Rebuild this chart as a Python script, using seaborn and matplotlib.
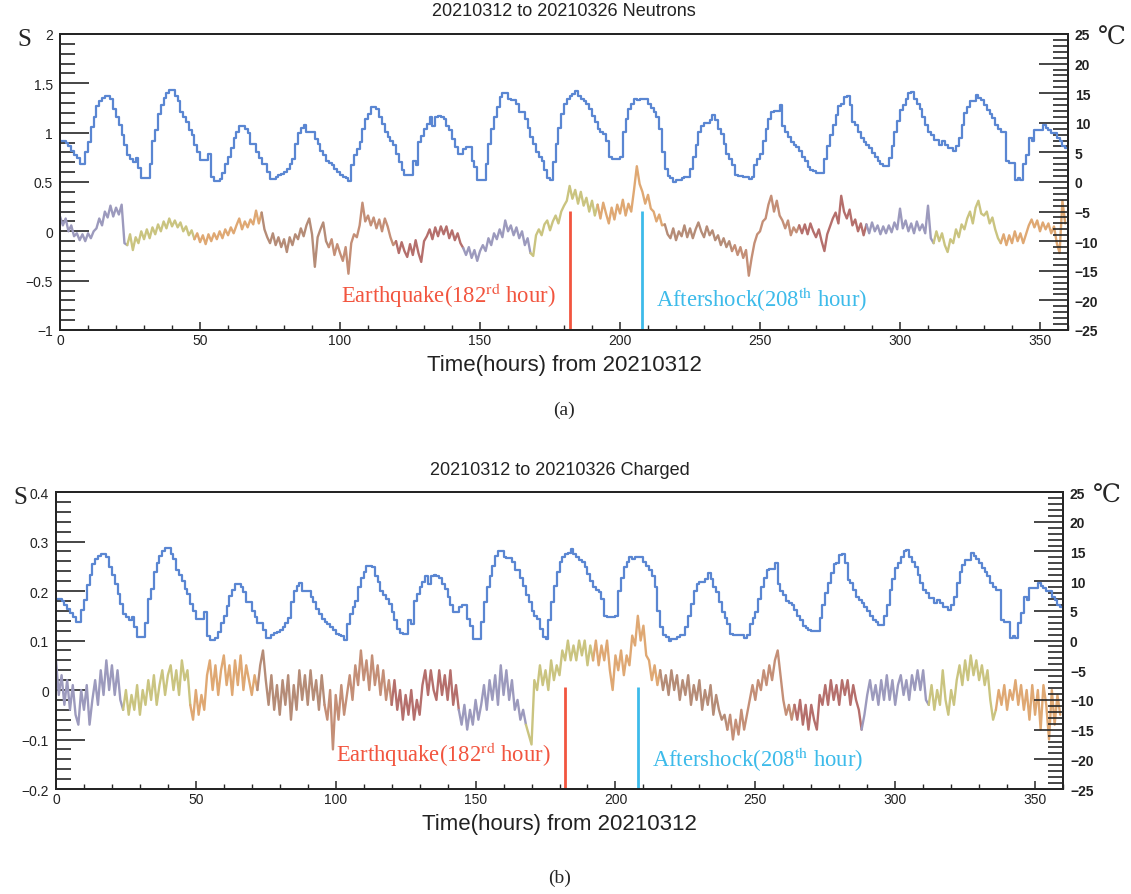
import numpy as np
import pandas as pd
import seaborn as sns
import matplotlib.pyplot as plt
from matplotlib.ticker import MultipleLocator, FuncFormatter

# hourly temperature (deg C), same period for both panels
temp_c = [
    7.0, 7.0, 6.6, 6.0, 5.3, 4.6, 4.0, 3.1, 3.1, 5.1, 6.8, 9.3, 11.0, 12.9, 13.7, 14.2, 14.5, 14.5, 14.1, 12.4, 11.0, 9.6, 7.9, 6.2,
    4.5, 3.9, 3.4, 4.0, 2.3, 0.6, 0.6, 0.6, 3.0, 7.0, 8.7, 11.5, 13.0, 14.2, 15.0, 15.5, 15.5, 14.6, 13.7, 11.8, 11.0, 10.1, 8.7, 7.9,
    6.2, 5.0, 3.7, 3.7, 3.7, 4.8, 0.8, 0.1, 0.1, 0.5, 1.5, 3.0, 4.2, 5.8, 7.5, 8.5, 9.5, 9.5, 9.0, 8.2, 6.5, 6.5, 5.0, 4.0,
    3.0, 3.0, 1.7, 0.5, 0.5, 0.9, 1.2, 1.4, 1.7, 2.2, 3.0, 3.8, 6.5, 8.3, 9.2, 9.7, 8.4, 8.4, 8.4, 7.3, 6.5, 5.3, 4.5, 3.6,
    3.2, 2.8, 2.2, 1.7, 1.1, 0.9, 0.7, 0.1, 2.8, 4.5, 5.6, 6.7, 9.0, 10.6, 11.5, 12.6, 12.6, 12.3, 10.9, 9.8, 8.4, 7.6, 7.0, 6.2,
    4.8, 3.4, 2.0, 1.2, 1.1, 1.1, 3.5, 2.8, 6.7, 7.8, 9.0, 9.8, 10.9, 9.5, 10.9, 11.1, 10.9, 10.6, 9.5, 8.7, 7.3, 5.9, 4.8, 4.8,
    5.6, 5.9, 5.9, 3.6, 2.5, 0.3, 0.3, 0.3, 3.1, 6.5, 9.0, 10.9, 12.6, 14.3, 15.1, 15.1, 14.1, 13.9, 13.9, 13.2, 11.8, 11.8, 10.6, 9.2,
    7.6, 6.5, 5.0, 4.2, 3.6, 2.0, 0.6, 0.3, 3.4, 6.5, 9.2, 11.5, 13.2, 14.0, 14.5, 14.8, 15.4, 14.5, 14.0, 13.6, 13.2, 12.3, 11.2, 10.1,
    9.0, 8.5, 8.1, 7.0, 4.2, 3.9, 3.9, 3.9, 4.2, 8.4, 10.6, 12.3, 13.2, 14.0, 13.8, 14.0, 14.0, 14.0, 13.2, 12.5, 11.8, 10.9, 9.0, 5.0,
    2.2, 1.0, 0.6, 0.0, 0.3, 0.3, 0.6, 0.9, 0.9, 2.2, 4.2, 6.2, 8.4, 9.5, 9.9, 9.9, 10.4, 11.3, 10.4, 9.0, 8.1, 6.5, 4.8, 3.8,
    2.8, 1.1, 1.0, 1.0, 0.9, 0.9, 0.5, 0.9, 2.8, 3.8, 4.8, 7.0, 9.0, 10.6, 11.8, 12.0, 12.0, 13.0, 9.5, 8.4, 7.6, 6.7, 6.3, 5.9,
    5.2, 4.2, 3.5, 2.5, 2.1, 1.8, 1.6, 1.6, 1.6, 3.8, 6.0, 8.0, 9.7, 11.3, 12.9, 13.1, 14.4, 14.6, 13.0, 10.2, 9.7, 8.5, 7.4, 6.8,
    6.3, 5.7, 4.9, 4.2, 3.5, 3.1, 2.7, 2.7, 4.1, 6.0, 8.5, 10.3, 12.2, 13.0, 14.1, 15.0, 15.2, 14.1, 13.2, 12.4, 11.0, 9.7, 8.5, 8.0,
    7.1, 7.1, 6.3, 6.9, 6.3, 5.7, 5.7, 5.2, 6.0, 7.4, 9.7, 11.6, 12.7, 13.6, 13.6, 14.7, 14.2, 13.8, 13.0, 12.2, 11.5, 10.8, 9.7, 9.0,
    8.5, 8.5, 3.5, 3.2, 3.2, 0.4, 0.7, 0.4, 3.0, 4.6, 7.4, 6.9, 8.8, 8.8, 8.8, 9.7, 9.1, 8.8, 8.3, 8.3, 7.4, 6.9, 6.0, 5.7,
]

# hourly S for neutrons
neutron_s = [
    0.15, 0.06, 0.13, 0.0, 0.06, -0.05, -0.02, -0.09, -0.03, -0.1, -0.02, -0.07, 0.0, 0.03, 0.13, 0.06, 0.2, 0.14, 0.26, 0.15, 0.24, 0.17, 0.27, -0.12,
    -0.14, -0.03, -0.19, -0.06, -0.12, 0.0, -0.08, 0.02, -0.07, 0.04, -0.03, 0.07, 0.0, 0.1, 0.03, 0.13, 0.05, 0.11, 0.04, 0.09, 0.0, 0.05, -0.04, 0.01,
    -0.08, -0.02, -0.11, -0.04, -0.13, -0.03, -0.1, -0.02, -0.08, 0.0, -0.07, 0.02, -0.04, 0.04, -0.02, 0.06, 0.13, 0.02, 0.1, 0.04, 0.12, 0.07, 0.21, 0.08,
    0.19, 0.02, -0.06, -0.12, -0.02, -0.14, -0.06, -0.16, -0.08, -0.21, -0.06, -0.14, -0.03, -0.08, 0.03, -0.05, 0.06, 0.13, -0.03, -0.36, -0.06, 0.02, 0.09, -0.1,
    -0.16, -0.08, -0.24, -0.13, -0.22, -0.3, -0.16, -0.43, -0.12, -0.03, -0.06, 0.06, 0.29, 0.1, 0.16, 0.06, 0.14, 0.03, 0.12, 0.0, 0.13, 0.05, -0.06, -0.14,
    -0.1, -0.22, -0.11, -0.2, -0.26, -0.13, -0.24, -0.09, -0.22, -0.31, -0.1, -0.05, 0.02, -0.08, 0.04, -0.05, 0.05, -0.03, 0.05, -0.07, 0.01, -0.09, -0.02, -0.12,
    -0.17, -0.24, -0.16, -0.27, -0.19, -0.3, -0.2, -0.14, -0.2, -0.07, -0.14, -0.02, -0.08, 0.02, -0.06, 0.11, 0.0, 0.06, -0.04, 0.04, -0.07, 0.0, -0.14, -0.07,
    -0.22, -0.25, -0.04, 0.02, -0.04, 0.07, 0.11, 0.01, 0.1, 0.16, 0.08, 0.2, 0.26, 0.31, 0.46, 0.33, 0.42, 0.28, 0.4, 0.26, 0.34, 0.2, 0.31, 0.16,
    0.27, 0.13, 0.29, 0.18, 0.08, 0.24, 0.12, 0.27, 0.18, 0.32, 0.16, 0.28, 0.2, 0.42, 0.66, 0.48, 0.4, 0.28, 0.37, 0.23, 0.2, 0.1, 0.17, 0.06,
    0.07, -0.03, -0.07, 0.03, -0.09, 0.0, -0.05, 0.06, -0.06, 0.03, -0.07, 0.02, 0.09, 0.0, -0.06, 0.05, -0.04, 0.01, -0.09, -0.04, -0.14, -0.07, -0.16, -0.1,
    -0.2, -0.14, -0.24, -0.16, -0.27, -0.19, -0.45, -0.27, -0.12, -0.03, 0.0, 0.1, 0.13, 0.27, 0.36, 0.2, 0.31, 0.16, 0.11, 0.03, 0.11, -0.04, 0.04, -0.01,
    0.06, -0.02, 0.07, -0.03, 0.08, 0.0, -0.06, 0.02, -0.1, -0.2, -0.03, 0.05, 0.13, 0.19, 0.08, 0.36, 0.2, 0.13, 0.22, 0.06, 0.12, 0.0, 0.08, -0.04,
    0.07, -0.02, 0.09, 0.0, 0.06, -0.03, 0.05, -0.02, 0.06, -0.01, 0.09, 0.02, 0.23, 0.03, 0.11, 0.0, 0.08, -0.02, 0.1, 0.01, 0.07, -0.02, 0.26, -0.07,
    -0.12, 0.0, -0.1, -0.02, -0.14, -0.21, -0.08, -0.12, 0.02, -0.06, 0.07, 0.02, 0.13, 0.2, 0.08, 0.24, 0.31, 0.18, 0.16, 0.2, 0.08, 0.14, 0.02, -0.07,
    -0.12, -0.03, -0.14, -0.04, -0.12, 0.0, -0.1, -0.02, -0.12, -0.03, 0.06, 0.12, 0.04, 0.11, 0.0, 0.09, 0.02, 0.08, -0.02, 0.05, -0.12, -0.22, 0.31, 0.08,
]

# hourly S for charged particles
charged_s = [
    0.06, -0.01, 0.03, -0.03, 0.02, -0.04, 0.01, -0.05, -0.07, 0.0, -0.04, 0.01, -0.07, -0.02, 0.02, -0.03, 0.04, -0.01, 0.06, 0.0, 0.05, -0.01, 0.04, -0.02,
    -0.04, 0.0, -0.05, -0.01, -0.04, 0.01, -0.05, 0.0, -0.03, 0.02, -0.02, 0.03, -0.03, 0.01, 0.04, -0.01, 0.03, 0.05, 0.0, 0.04, -0.01, 0.06, 0.02, 0.04,
    -0.03, -0.06, 0.0, -0.05, -0.01, -0.04, 0.03, 0.06, 0.0, 0.05, -0.01, 0.04, 0.07, 0.01, 0.05, -0.01, 0.06, 0.01, 0.07, 0.0, 0.05, 0.02, -0.01, 0.03,
    0.0, 0.05, 0.08, 0.02, -0.03, 0.03, -0.04, 0.01, -0.05, 0.02, -0.03, 0.03, -0.06, 0.01, -0.04, 0.04, -0.02, 0.03, -0.03, 0.04, -0.02, 0.02, -0.04, 0.03,
    -0.03, -0.06, 0.0, -0.12, -0.01, -0.06, 0.01, -0.05, -0.01, 0.03, -0.02, 0.05, 0.01, 0.08, 0.02, 0.06, 0.0, 0.07, 0.01, 0.05, -0.01, 0.04, -0.02, 0.02,
    -0.03, 0.02, -0.04, 0.0, -0.06, -0.01, -0.05, 0.0, -0.06, -0.02, -0.05, 0.01, 0.04, -0.01, 0.04, 0.0, -0.02, 0.04, -0.01, 0.03, -0.02, 0.04, -0.03, 0.01,
    -0.04, -0.07, -0.03, -0.08, -0.04, -0.07, -0.02, -0.06, -0.03, 0.01, -0.04, 0.02, -0.02, 0.03, -0.03, 0.05, -0.01, 0.04, -0.02, 0.02, -0.04, -0.02, -0.06, -0.04,
    -0.07, -0.09, -0.11, 0.02, 0.0, 0.05, 0.01, 0.04, 0.0, 0.06, 0.02, 0.05, 0.03, 0.08, 0.06, 0.1, 0.06, 0.09, 0.06, 0.1, 0.07, 0.1, 0.05, 0.09,
    0.06, 0.1, 0.05, 0.09, 0.06, 0.1, 0.04, 0.0, 0.07, 0.04, 0.08, 0.03, 0.07, 0.05, 0.11, 0.09, 0.15, 0.1, 0.13, 0.07, 0.06, 0.02, 0.05, 0.01,
    0.04, 0.0, 0.03, -0.01, 0.04, 0.0, 0.03, -0.02, 0.02, -0.01, 0.03, -0.03, 0.01, -0.02, 0.02, -0.04, 0.0, -0.03, 0.01, -0.05, -0.01, -0.04, -0.06, -0.05,
    -0.08, -0.05, -0.1, -0.06, -0.09, -0.04, -0.08, -0.05, -0.02, 0.01, -0.02, 0.02, 0.0, 0.04, 0.01, 0.05, 0.02, 0.06, 0.08, 0.03, -0.02, -0.05, -0.03, -0.06,
    -0.03, -0.06, -0.02, -0.07, -0.03, -0.08, -0.03, -0.06, -0.08, -0.01, -0.03, 0.01, -0.03, 0.02, -0.02, 0.01, -0.03, 0.02, -0.01, 0.02, -0.03, 0.01, -0.02, -0.04,
    -0.08, -0.05, -0.01, 0.02, -0.02, 0.01, -0.03, 0.02, -0.02, 0.03, -0.02, 0.02, -0.03, 0.01, 0.03, -0.01, 0.02, -0.02, 0.03, 0.0, 0.04, 0.0, 0.04, -0.02,
    -0.03, 0.01, -0.04, 0.0, -0.03, 0.04, -0.02, -0.05, 0.0, -0.03, 0.02, 0.05, 0.01, 0.06, 0.02, 0.07, 0.03, 0.06, 0.02, 0.05, 0.01, 0.04, -0.02, -0.06,
    -0.04, 0.0, -0.03, 0.01, -0.04, 0.0, -0.02, 0.02, -0.03, 0.01, -0.04, 0.0, -0.06, 0.01, -0.05, 0.0, -0.08, 0.01, -0.03, -0.1, 0.0, -0.07, -0.01, -0.05,
]

day_colors = ['#9c9abd', '#cac480', '#dfa873', '#b58c77', '#c48f77', '#b56f6c']
events = [182, 208]
event_labels = ['Earthquake(182$^{\\rm rd}$ hour)', 'Aftershock(208$^{\\rm th}$ hour)']
event_colors = ['#f2553f', '#3dbbea']

sns.set_style('white')
plt.rcParams['font.family'] = ['Liberation Sans', 'DejaVu Sans']
plt.rcParams['mathtext.fontset'] = 'stix'

hours = np.arange(len(temp_c))


def day_frame(values):
    parts = []
    for d in range(15):
        h = hours[d * 24: min(d * 24 + 25, len(values))]
        parts.append(pd.DataFrame({'hour': h, 's': [values[i] for i in h], 'day': f'd{d:02d}'}))
    return pd.concat(parts, ignore_index=True)


def fmt(v, _):
    return f'{v:g}'.replace('-', '\u2212')


fig = plt.figure(figsize=(11.31, 8.95), dpi=100)

panels = [
    dict(values=neutron_s, rect=[0.0531, 0.6302, 0.8912, 0.3307], ylim=(-1, 2), major=0.5, minor=0.1,
         title='20210312 to 20210326 Neutrons', top=0.21, ytext=(-0.64, -0.68), tag='(a)', tag_y=410),
    dict(values=charged_s, rect=[0.0495, 0.1173, 0.8904, 0.3318], ylim=(-0.2, 0.4), major=0.1, minor=0.02,
         title='20210312 to 20210326 Charged', top=0.006, ytext=(-0.129, -0.139), tag='(b)', tag_y=878),
]

for p in panels:
    ax = fig.add_axes(p['rect'])
    df = day_frame(p['values'])
    pal = {f'd{d:02d}': day_colors[d % 6] for d in range(15)}
    sns.lineplot(data=df, x='hour', y='s', hue='day', palette=pal, estimator=None, sort=False,
                 legend=False, lw=1.7, ax=ax)

    ax.set_xlim(0, 360)
    ax.set_ylim(*p['ylim'])
    ax.set_xlabel('Time(hours) from 20210312', fontsize=16, labelpad=5, color='#222222')
    ax.set_ylabel('')
    ax.xaxis.set_major_locator(MultipleLocator(50))
    ax.xaxis.set_minor_locator(MultipleLocator(10))
    ax.yaxis.set_major_locator(MultipleLocator(p['major']))
    ax.yaxis.set_minor_locator(MultipleLocator(p['minor']))
    ax.yaxis.set_major_formatter(FuncFormatter(fmt))
    ax.tick_params(axis='y', which='major', direction='in', length=21, width=1.2, left=True, right=False,
                   labelsize=10, pad=5, labelcolor='#222222')
    ax.tick_params(axis='y', which='minor', direction='in', length=11, width=1.2, left=True, right=False)
    ax.tick_params(axis='x', which='major', direction='in', length=6, width=1.1, bottom=True, top=False,
                   labelsize=10, pad=2, labelcolor='#222222')
    ax.tick_params(axis='x', which='minor', direction='in', length=3.5, width=1.0, bottom=True, top=False)
    for sp in ax.spines.values():
        sp.set_linewidth(1.4)
        sp.set_color('#111111')

    for ev, lab, col, yt, ha, dx in zip(events, event_labels, event_colors, p['ytext'], ['right', 'left'], [-5, 5]):
        ax.vlines(ev, p['ylim'][0], p['top'], color=col, lw=2)
        ax.text(ev + dx, yt, lab, color=col, ha=ha, va='center', fontsize=16.3, family='Liberation Serif')

    axr = ax.twinx()
    sns.lineplot(x=np.append(hours, 360), y=temp_c + [temp_c[-1]], drawstyle='steps-post',
                 color='#5a86d2', lw=1.6, estimator=None, ax=axr)
    axr.set_ylim(-25, 25)
    axr.yaxis.set_major_locator(MultipleLocator(5))
    axr.yaxis.set_minor_locator(MultipleLocator(1))
    axr.yaxis.set_major_formatter(FuncFormatter(fmt))
    axr.tick_params(axis='y', which='major', direction='in', length=21, width=1.2, right=True, left=False,
                    labelsize=10, pad=5, labelcolor='#222222')
    axr.tick_params(axis='y', which='minor', direction='in', length=11, width=1.2, right=True, left=False)
    for lab in axr.get_yticklabels():
        lab.set_fontweight('bold')
    for sp in axr.spines.values():
        sp.set_linewidth(1.4)

    x0, y0, w, h = p['rect']
    fig.text(x0 + w / 2, y0 + h + 23 / 895, p['title'], ha='center', va='center', fontsize=13, color='#222222')
    fig.text(x0 - 43 / 1131, y0 + h - 5 / 895, 'S', ha='left', va='center', fontsize=18, family='Liberation Serif')
    fig.text(x0 + w + 30 / 1131, y0 + h - 3 / 895, '\u2103', ha='left', va='center', fontsize=18, family='DejaVu Serif')
    fig.text(x0 + w / 2, 1 - p['tag_y'] / 895, p['tag'], ha='center', va='center', fontsize=14, family='Liberation Serif')

fig.savefig('out.png', dpi=100)
